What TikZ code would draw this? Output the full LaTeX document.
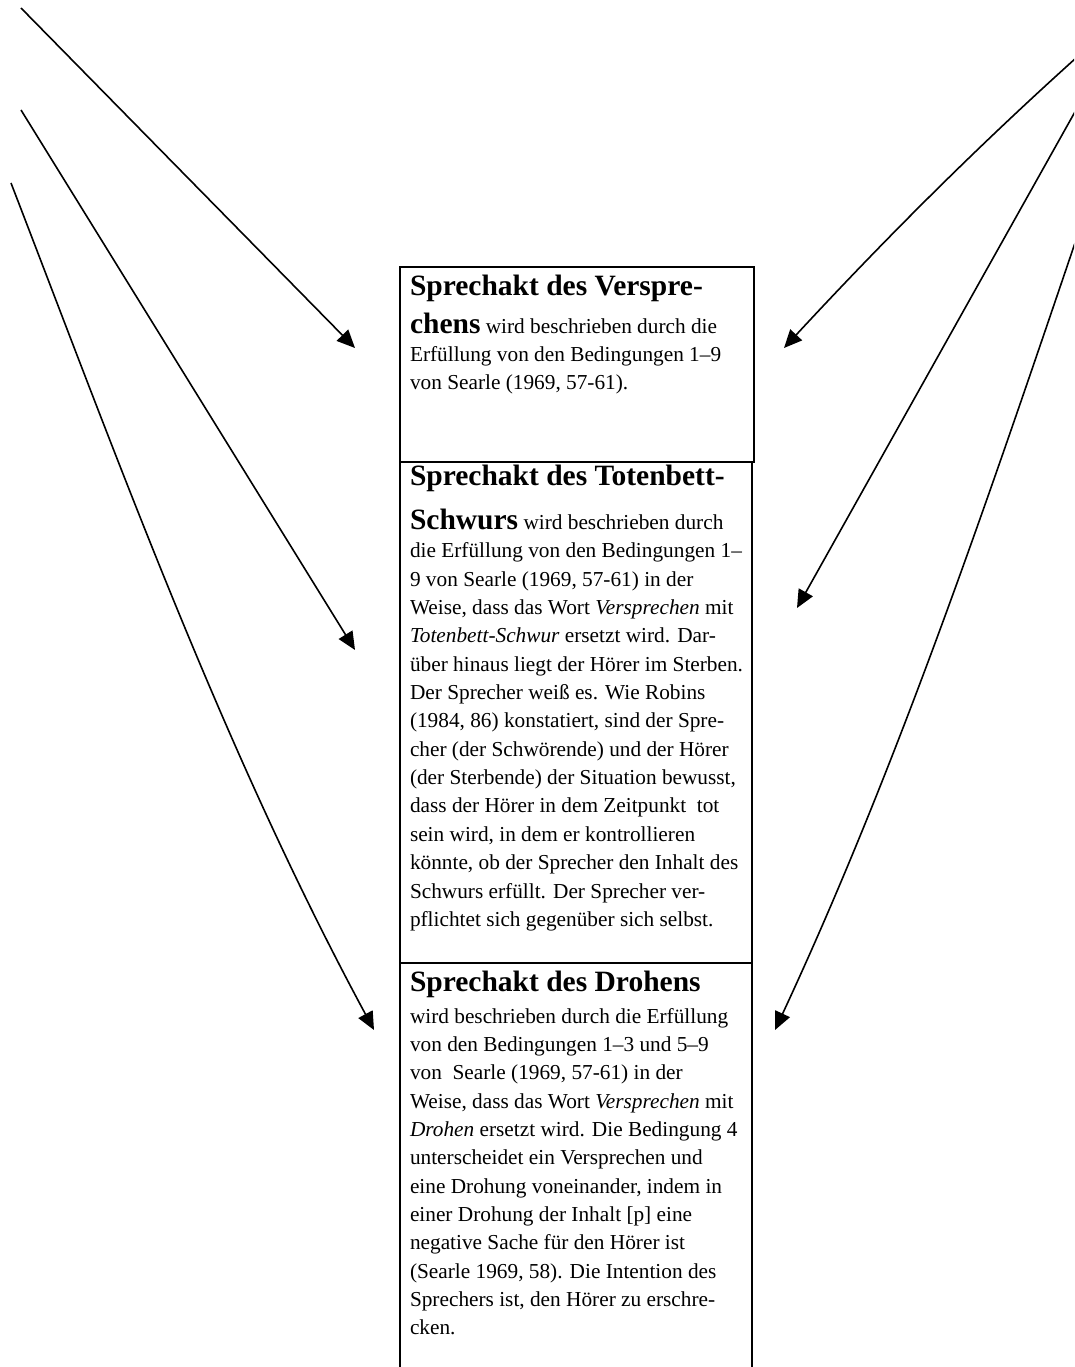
\documentclass[tikz,border=0pt]{standalone}
\usepackage{fontspec}
\setmainfont{Liberation Serif}
\usetikzlibrary{arrows.meta}
\newcommand{\bodyfont}{\fontsize{21.3}{28.35}\selectfont}
\newcommand{\headfont}{\fontsize{29.5}{28.35}\selectfont\bfseries}
\newcommand{\boxtext}[1]{\parbox[t]{420pt}{\bodyfont\raggedright\lineskiplimit=-100pt\relax #1}}
\begin{document}
\begin{tikzpicture}[x=1pt,y=-1pt,
  boxframe/.style={draw, line width=2.4pt, rectangle, inner sep=0pt, outer sep=0pt, anchor=north west},
  boxtxt/.style={anchor=base west, inner sep=0pt, outer sep=0pt},
  pointer/.style={line width=1.6pt, -{Triangle[length=18pt,width=16pt]}}]
\useasboundingbox (0,0) rectangle (1074,1367);
\fill[white] (0,0) rectangle (1074,1367);
\clip (0,0) rectangle (1074,1367);

% boxes
\node[boxframe, minimum width=352pt, minimum height=501pt] (b2) at (400,462) {};
\node[boxframe, minimum width=352pt, minimum height=450pt] (b3) at (400,963) {};
\node[boxframe, minimum width=354pt, minimum height=195pt] (b1) at (400,267) {};

% texts
\node[boxtxt] (t1) at (410,295) {\boxtext{%
{\headfont Sprechakt des Verspre-}\\[9.65pt]
{\headfont chens} wird beschrieben durch die\\
Erfüllung von den Bedingungen 1–9\\
von Searle (1969, 57-61).}};

\node[boxtxt] (t2) at (410,485) {\boxtext{%
{\headfont Sprechakt des Totenbett-}\\[16.1pt]
{\headfont Schwurs} wird beschrieben durch\\
die Erfüllung von den Bedingungen 1–\\
9 von Searle (1969, 57-61) in der\\
Weise, dass das Wort \textit{Versprechen} mit\\
\textit{Totenbett-Schwur} ersetzt wird. Dar-\\
über hinaus liegt der Hörer im Sterben.\\
Der Sprecher weiß es. Wie Robins\\
(1984, 86) konstatiert, sind der Spre-\\
cher (der Schwörende) und der Hörer\\
(der Sterbende) der Situation bewusst,\\
dass der Hörer in dem Zeitpunkt\ \ tot\\
sein wird, in dem er kontrollieren\\
könnte, ob der Sprecher den Inhalt des\\
Schwurs erfüllt. Der Sprecher ver-\\
pflichtet sich gegenüber sich selbst.}};

\node[boxtxt] (t3) at (410,991.7) {\boxtext{%
{\headfont Sprechakt des Drohens}\\[3pt]
wird beschrieben durch die Erfüllung\\
von den Bedingungen 1–3 und 5–9\\
von\ \ Searle (1969, 57-61) in der\\
Weise, dass das Wort \textit{Versprechen} mit\\
\textit{Drohen} ersetzt wird. Die Bedingung 4\\
unterscheidet ein Versprechen und\\
eine Drohung voneinander, indem in\\
einer Drohung der Inhalt [p] eine\\
negative Sache für den Hörer ist\\
(Searle 1969, 58). Die Intention des\\
Sprechers ist, den Hörer zu erschre-\\
cken.}};

% arrow endpoints
\coordinate (sL1) at (21,8);
\coordinate (eL1) at (355,348);
\coordinate (sL2) at (21,110);
\coordinate (eL2) at (355,650);
\coordinate (sL3) at (11,183);
\coordinate (eL3) at (374,1030);
\coordinate (sR1) at (1076,58);
\coordinate (eR1) at (784,348);
\coordinate (sR2) at (1076,110);
\coordinate (eR2) at (797,608);
\coordinate (sR3) at (1075,243);
\coordinate (eR3) at (775,1030);

\draw[pointer] (sL1) -- (eL1);
\draw[pointer] (sL2) -- (eL2);
\draw[pointer] (sL3) .. controls (119,463) and (223,750) .. (eL3);
\draw[pointer] (sR1) .. controls (976,148) and (884,240) .. (eR1);
\draw[pointer] (sR2) -- (eR2);
\draw[pointer] (sR3) .. controls (986,505) and (896,770) .. (eR3);
\end{tikzpicture}
\end{document}
